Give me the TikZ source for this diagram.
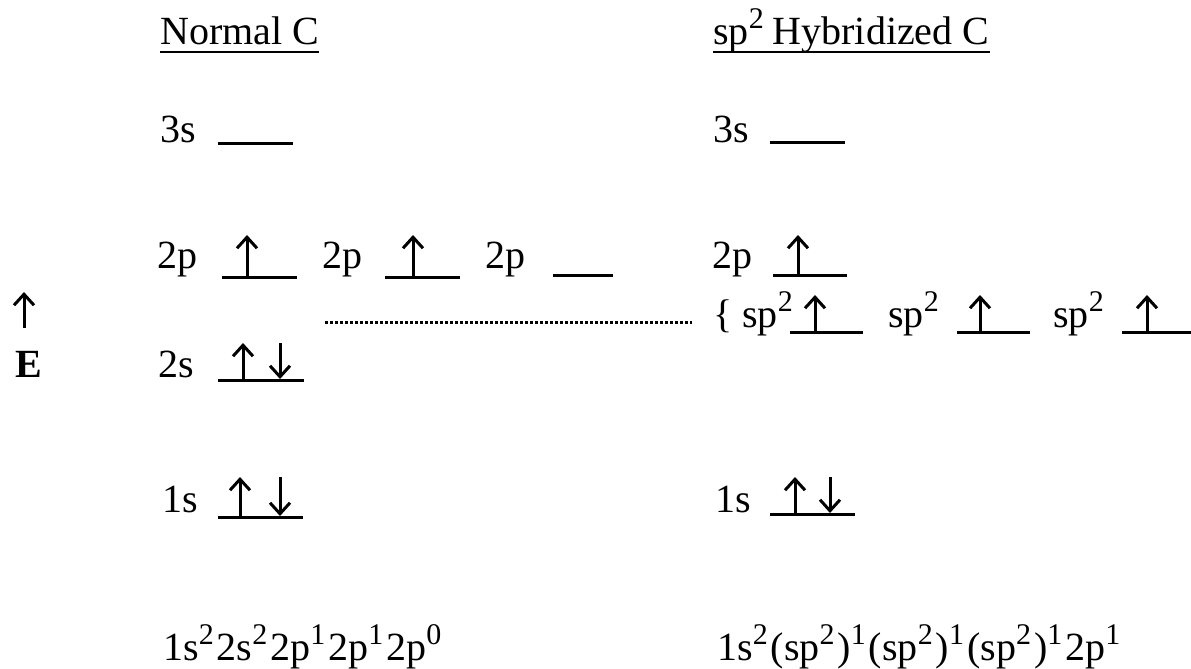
\documentclass[tikz,border=0pt]{standalone}
\usepackage{fontspec}
\setmainfont{Liberation Serif}
\usetikzlibrary{arrows.meta}
\newcommand\spx[1]{\raisebox{16pt}{\fontsize{30}{30}\selectfont #1}\kern3pt}
\tikzset{
  lbl/.style={anchor=base west, inner sep=0pt, font=\fontsize{40}{40}\selectfont},
  lvl/.style={line width=3pt},
  hdrline/.style={line width=2.2pt},
  spin/.style={line width=3pt, -{Straight Barb[length=11pt,width=20pt,line width=3pt]}},
  dotline/.style={line width=3pt, dash pattern=on 2.5pt off 2.5pt}
}
\begin{document}
\begin{tikzpicture}[x=1pt,y=-1pt]
\useasboundingbox (0,0) rectangle (1191,669);
% headers
\node[lbl] (hN) at (160,45) {Normal C};
\draw[hdrline] ([yshift=-7pt]hN.base west) -- ([yshift=-7pt]hN.base east);
\node[lbl] (hS) at (713,45) {sp\spx{2}\kern6pt Hybridized C};
\draw[hdrline] ([yshift=-7pt]hS.base west) -- ([yshift=-7pt]hS.base east);
% energy axis
\coordinate (eb) at (24,328);
\coordinate (et) at (24,292);
\draw[spin] (eb) -- (et);
\node[lbl] (E) at (15,377) {\textbf{E}};
% ---- normal C
\node[lbl] (n3s) at (160,142) {3s};
\coordinate (n3sa) at (218,143); \coordinate (n3sb) at (293,143);
\draw[lvl] (n3sa) -- (n3sb);

\node[lbl] (n2p1) at (157,268) {2p};
\coordinate (n2p1a) at (222,277); \coordinate (n2p1b) at (297,277);
\draw[lvl] (n2p1a) -- (n2p1b);
\coordinate (n2p1u) at (247,277); \coordinate (n2p1ut) at (247,235);
\draw[spin] (n2p1u) -- (n2p1ut);

\node[lbl] (n2p2) at (322,268) {2p};
\coordinate (n2p2a) at (385,277); \coordinate (n2p2b) at (460,277);
\draw[lvl] (n2p2a) -- (n2p2b);
\coordinate (n2p2u) at (413,277); \coordinate (n2p2ut) at (413,235);
\draw[spin] (n2p2u) -- (n2p2ut);

\node[lbl] (n2p3) at (485,268) {2p};
\coordinate (n2p3a) at (553,275); \coordinate (n2p3b) at (613,275);
\draw[lvl] (n2p3a) -- (n2p3b);

\node[lbl] (n2s) at (158,377) {2s};
\coordinate (n2sa) at (218,380); \coordinate (n2sb) at (304,380);
\draw[lvl] (n2sa) -- (n2sb);
\coordinate (n2su) at (243,380); \coordinate (n2sut) at (243,343);
\draw[spin] (n2su) -- (n2sut);
\coordinate (n2sd) at (280,343); \coordinate (n2sdb) at (280,379);
\draw[spin] (n2sd) -- (n2sdb);

\node[lbl] (n1s) at (162,512) {1s};
\coordinate (n1sa) at (218,517); \coordinate (n1sb) at (303,517);
\draw[lvl] (n1sa) -- (n1sb);
\coordinate (n1su) at (240,517); \coordinate (n1sut) at (240,477);
\draw[spin] (n1su) -- (n1sut);
\coordinate (n1sd) at (280,477); \coordinate (n1sdb) at (280,516);
\draw[spin] (n1sd) -- (n1sdb);

\node[lbl] (nconf) at (163,660) {1s\spx{2}2s\spx{2}2p\spx{1}2p\spx{1}2p\spx{0}};

% ---- hybridized C
\node[lbl] (h3s) at (713,142) {3s};
\coordinate (h3sa) at (770,142); \coordinate (h3sb) at (845,142);
\draw[lvl] (h3sa) -- (h3sb);

\node[lbl] (h2p) at (712,268) {2p};
\coordinate (h2pa) at (773,275); \coordinate (h2pb) at (847,275);
\draw[lvl] (h2pa) -- (h2pb);
\coordinate (h2pu) at (798,275); \coordinate (h2put) at (798,235);
\draw[spin] (h2pu) -- (h2put);

\node[lbl] (sp1) at (713,327) {\{ sp\spx{2}};
\coordinate (sp1a) at (790,332); \coordinate (sp1b) at (863,332);
\draw[lvl] (sp1a) -- (sp1b);
\coordinate (sp1u) at (815,332); \coordinate (sp1ut) at (815,295);
\draw[spin] (sp1u) -- (sp1ut);

\node[lbl] (sp2) at (888,327) {sp\spx{2}};
\coordinate (sp2a) at (957,332); \coordinate (sp2b) at (1030,332);
\draw[lvl] (sp2a) -- (sp2b);
\coordinate (sp2u) at (980,332); \coordinate (sp2ut) at (980,295);
\draw[spin] (sp2u) -- (sp2ut);

\node[lbl] (sp3) at (1053,327) {sp\spx{2}};
\coordinate (sp3a) at (1122,332); \coordinate (sp3b) at (1191,332);
\draw[lvl] (sp3a) -- (sp3b);
\coordinate (sp3u) at (1147,332); \coordinate (sp3ut) at (1147,295);
\draw[spin] (sp3u) -- (sp3ut);

\node[lbl] (h1s) at (715,512) {1s};
\coordinate (h1sa) at (770,514); \coordinate (h1sb) at (855,514);
\draw[lvl] (h1sa) -- (h1sb);
\coordinate (h1su) at (795,514); \coordinate (h1sut) at (795,477);
\draw[spin] (h1su) -- (h1sut);
\coordinate (h1sd) at (830,477); \coordinate (h1sdb) at (830,513);
\draw[spin] (h1sd) -- (h1sdb);

\node[lbl] (hconf) at (717,660) {1s\spx{2}(sp\spx{2})\spx{1}(sp\spx{2})\spx{1}(sp\spx{2})\spx{1}2p\spx{1}};

% dotted connector
\coordinate (dotstart) at (325,322);
\coordinate (dotend) at (692,322);
\draw[dotline] (dotstart) -- (dotend);
\end{tikzpicture}
\end{document}
